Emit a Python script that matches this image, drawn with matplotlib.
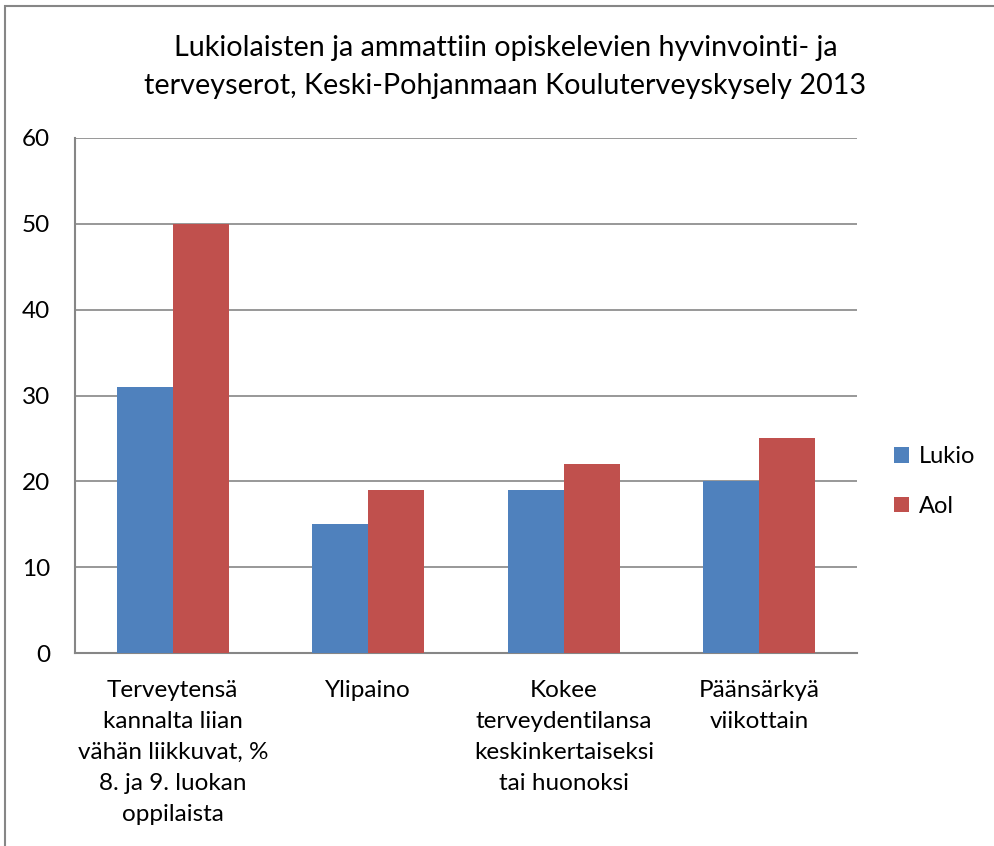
import numpy as np
import matplotlib
matplotlib.use('Agg')
import matplotlib.pyplot as plt
from matplotlib.patches import Rectangle

plt.rcParams['font.family'] = ['Lato', 'DejaVu Sans']

categories = ['Terveytensä\nkannalta liian\nvähän liikkuvat, %\n8. ja 9. luokan\noppilaista',
              'Ylipaino',
              'Kokee\nterveydentilansa\nkeskinkertaiseksi\ntai huonoksi',
              'Päänsärkyä\nviikottain']
lukio = [31, 15, 19, 20]
aol = [50, 19, 22, 25]
series_names = ['Lukio', 'Aol']
title = 'Lukiolaisten ja ammattiin opiskelevien hyvinvointi- ja\nterveyserot, Keski-Pohjanmaan Kouluterveyskysely 2013'


def main():
    fig = plt.figure(figsize=(9.95, 8.46), dpi=100)
    ax = fig.add_axes([0.0754, 0.228, 0.786, 0.609])

    x = np.arange(len(categories))
    w = 1 / 3.5
    ax.bar(x - w / 2, lukio, w, color='#4F81BD', label=series_names[0], zorder=3)
    ax.bar(x + w / 2, aol, w, color='#C0504D', label=series_names[1], zorder=3)

    ax.set_xlim(-0.5, len(categories) - 0.5)
    ax.set_ylim(0, 60)
    ax.set_yticks(range(0, 61, 10))
    ax.yaxis.grid(True, color='#868686', linewidth=1.2, zorder=0)
    ax.set_xticks(x)
    ax.set_xticklabels(categories, fontsize=17, linespacing=1.6)
    ax.tick_params(axis='both', length=0, labelsize=17.5)
    ax.tick_params(axis='x', pad=19)
    ax.tick_params(axis='y', pad=18)
    for s in ['top', 'right']:
        ax.spines[s].set_visible(False)
    for s in ['left', 'bottom']:
        ax.spines[s].set_color('#868686')
        ax.spines[s].set_linewidth(1.5)

    fig.text(0.508, 0.921, title, ha='center', va='center', fontsize=20.7, linespacing=1.6)

    ax.legend(loc='center left', bbox_to_anchor=(1.02, 0.333), frameon=False, fontsize=17,
              handlelength=0.65, handleheight=0.65, labelspacing=1.2, handletextpad=0.4)

    fig.patches.append(Rectangle((5 / 995, -0.1), 2, 1.1 - 6 / 846, transform=fig.transFigure,
                                 fill=False, edgecolor='#868686', linewidth=1.5))

    fig.savefig('out.png', dpi=100)


if __name__ == '__main__':
    main()
